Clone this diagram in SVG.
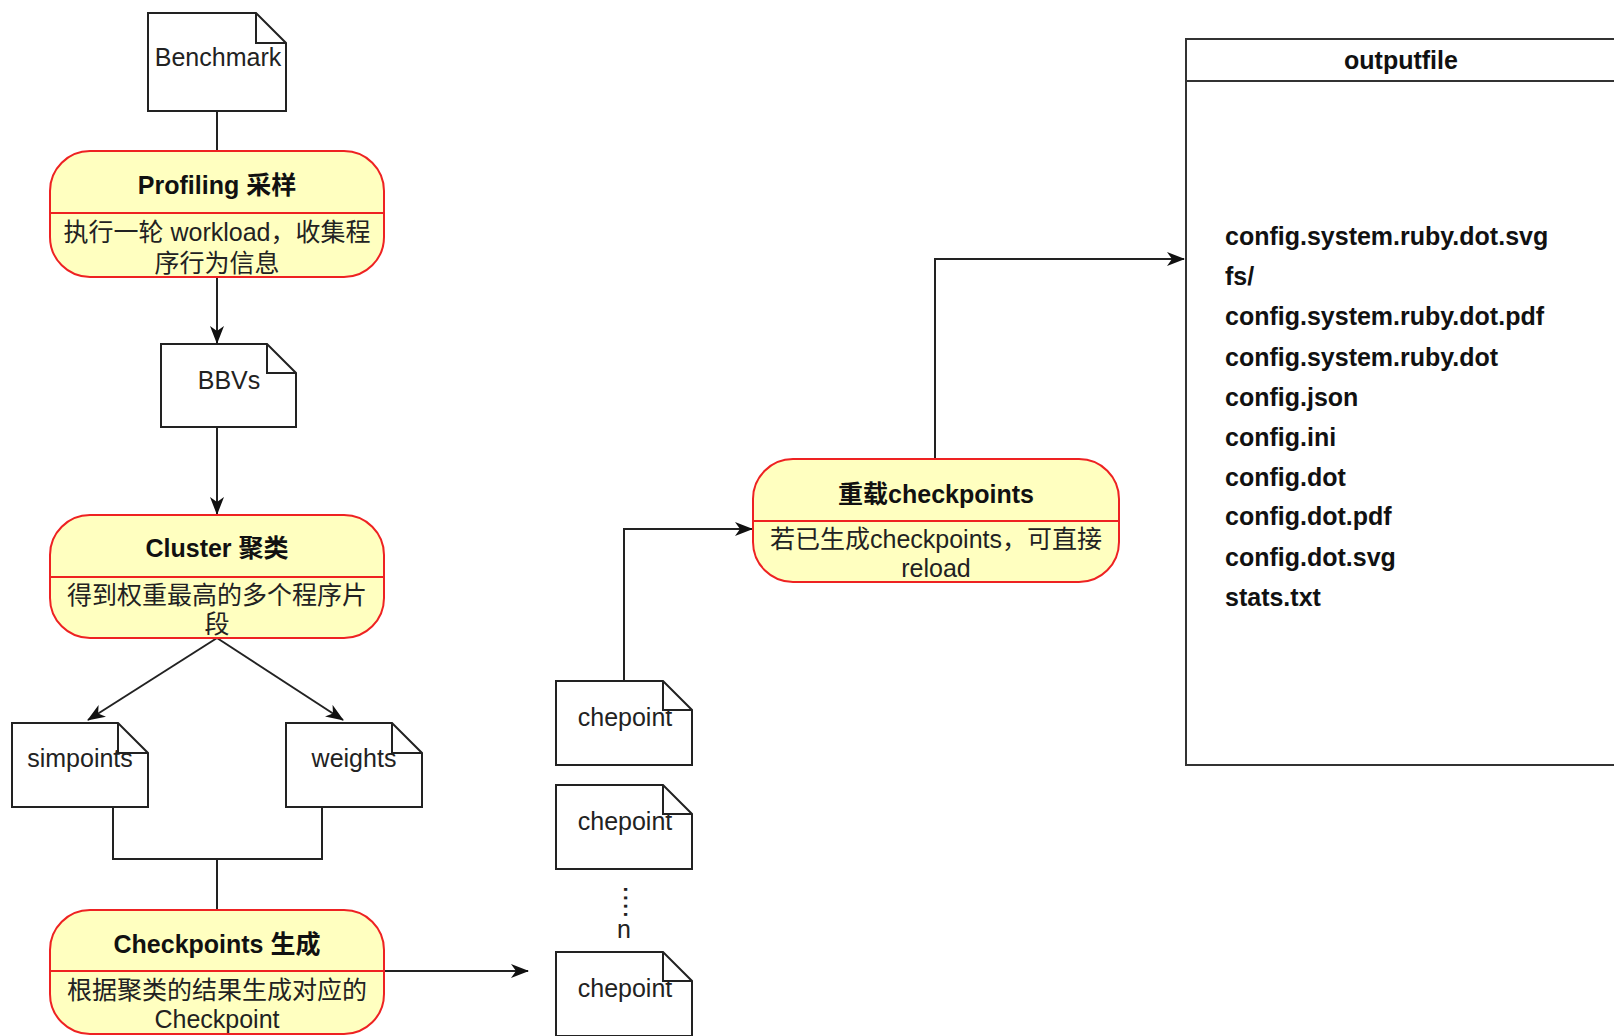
<svg xmlns="http://www.w3.org/2000/svg" width="1614" height="1036" viewBox="0 0 1614 1036">
<style>
  .doc { fill: #ffffff; stroke: #222222; stroke-width: 2; }
  .fold { fill: none; stroke: #222222; stroke-width: 2; }
  .state { fill: #ffffc0; stroke: #ee2222; stroke-width: 2; }
  .div { stroke: #ee2222; stroke-width: 2; }
  .t { font-family: "Liberation Sans", "Noto Sans CJK SC", sans-serif; font-size: 25px; fill: #222222; text-anchor: middle; }
  .b { font-family: "Liberation Sans", "Noto Sans CJK SC", sans-serif; font-size: 25px; font-weight: bold; fill: #111111; text-anchor: middle; }
  .item { font-family: "Liberation Sans", "Noto Sans CJK SC", sans-serif; font-size: 25px; font-weight: bold; fill: #111111; }
  .edge { fill: none; stroke: #222222; stroke-width: 2; }
  .box { fill: #ffffff; stroke: #333333; stroke-width: 2; }
</style>
<defs>
  <marker id="arrow" viewBox="0 0 18 14" refX="17" refY="7" markerWidth="18" markerHeight="14" markerUnits="userSpaceOnUse" orient="auto">
    <path d="M0,0 L18,7 L0,14 L5,7 Z" fill="#111111"/>
  </marker>
</defs>
<rect width="1614" height="1036" fill="#ffffff"/>

<g id="connectors">
  <path class="edge" d="M217,111 V151"/>
  <path class="edge" d="M217,277 V343" marker-end="url(#arrow)"/>
  <path class="edge" d="M217,427 V514" marker-end="url(#arrow)"/>
  <path class="edge" d="M217,638 L88,720" marker-end="url(#arrow)"/>
  <path class="edge" d="M217,638 L343,720" marker-end="url(#arrow)"/>
  <path class="edge" d="M113,807 V859 H322 V807"/>
  <path class="edge" d="M217,859 V910"/>
  <path class="edge" d="M384,971 H528" marker-end="url(#arrow)"/>
  <path class="edge" d="M624,681 V529 H752" marker-end="url(#arrow)"/>
  <path class="edge" d="M935,458 V259 H1184" marker-end="url(#arrow)"/>
</g>

<g id="benchmark">
  <path class="doc" d="M148,13 H256 L286,43 V111 H148 Z"/>
  <path class="fold" d="M256,13 V43 H286"/>
  <text class="t" x="218" y="66">Benchmark</text>
</g>

<g id="profiling">
  <rect class="state" x="50" y="151" width="334" height="126" rx="40" ry="40"/>
  <line class="div" x1="50" y1="213" x2="384" y2="213"/>
  <text class="b" x="217" y="194">Profiling 采样</text>
  <text class="t" x="217" y="241">执行一轮 workload，收集程</text>
  <text class="t" x="217" y="272">序行为信息</text>
</g>

<g id="bbvs">
  <path class="doc" d="M161,344 H267 L296,373 V427 H161 Z"/>
  <path class="fold" d="M267,344 V373 H296"/>
  <text class="t" x="229" y="389">BBVs</text>
</g>

<g id="cluster">
  <rect class="state" x="50" y="515" width="334" height="123" rx="40" ry="40"/>
  <line class="div" x1="50" y1="577" x2="384" y2="577"/>
  <text class="b" x="217" y="557">Cluster 聚类</text>
  <text class="t" x="217" y="604">得到权重最高的多个程序片</text>
  <text class="t" x="217" y="633">段</text>
</g>

<g id="simpoints">
  <path class="doc" d="M12,723 H118 L148,753 V807 H12 Z"/>
  <path class="fold" d="M118,723 V753 H148"/>
  <text class="t" x="80" y="767">simpoints</text>
</g>

<g id="weights">
  <path class="doc" d="M286,723 H392 L422,753 V807 H286 Z"/>
  <path class="fold" d="M392,723 V753 H422"/>
  <text class="t" x="354" y="767">weights</text>
</g>

<g id="checkpoints">
  <rect class="state" x="50" y="910" width="334" height="124" rx="40" ry="40"/>
  <line class="div" x1="50" y1="971" x2="384" y2="971"/>
  <text class="b" x="217" y="953">Checkpoints 生成</text>
  <text class="t" x="217" y="999">根据聚类的结果生成对应的</text>
  <text class="t" x="217" y="1028">Checkpoint</text>
</g>

<g id="chepoint1">
  <path class="doc" d="M556,681 H663 L692,710 V765 H556 Z"/>
  <path class="fold" d="M663,681 V710 H692"/>
  <text class="t" x="625" y="726">chepoint</text>
</g>

<g id="chepoint2">
  <path class="doc" d="M556,785 H663 L692,814 V869 H556 Z"/>
  <path class="fold" d="M663,785 V814 H692"/>
  <text class="t" x="625" y="830">chepoint</text>
</g>

<g id="ellipsis">
  <text class="t" x="624" y="902" style="font-size:30px" transform="rotate(90 624 902)">....</text>
  <text class="t" x="624" y="938">n</text>
</g>

<g id="chepoint3">
  <path class="doc" d="M556,952 H663 L692,981 V1036 H556 Z"/>
  <path class="fold" d="M663,952 V981 H692"/>
  <text class="t" x="625" y="997">chepoint</text>
</g>

<g id="reload">
  <rect class="state" x="753" y="459" width="366" height="123" rx="40" ry="40"/>
  <line class="div" x1="753" y1="521" x2="1119" y2="521"/>
  <text class="b" x="936" y="503">重载checkpoints</text>
  <text class="t" x="936" y="548">若已生成checkpoints，可直接</text>
  <text class="t" x="936" y="577">reload</text>
</g>

<g id="outputfile">
  <rect class="box" x="1186" y="39" width="440" height="726"/>
  <line x1="1186" y1="81" x2="1626" y2="81" stroke="#333333" stroke-width="2"/>
  <text class="b" x="1401" y="69">outputfile</text>
  <text class="item" x="1225" y="245">config.system.ruby.dot.svg</text>
  <text class="item" x="1225" y="285">fs/</text>
  <text class="item" x="1225" y="325">config.system.ruby.dot.pdf</text>
  <text class="item" x="1225" y="366">config.system.ruby.dot</text>
  <text class="item" x="1225" y="406">config.json</text>
  <text class="item" x="1225" y="446">config.ini</text>
  <text class="item" x="1225" y="486">config.dot</text>
  <text class="item" x="1225" y="525">config.dot.pdf</text>
  <text class="item" x="1225" y="566">config.dot.svg</text>
  <text class="item" x="1225" y="606">stats.txt</text>
</g>
</svg>
